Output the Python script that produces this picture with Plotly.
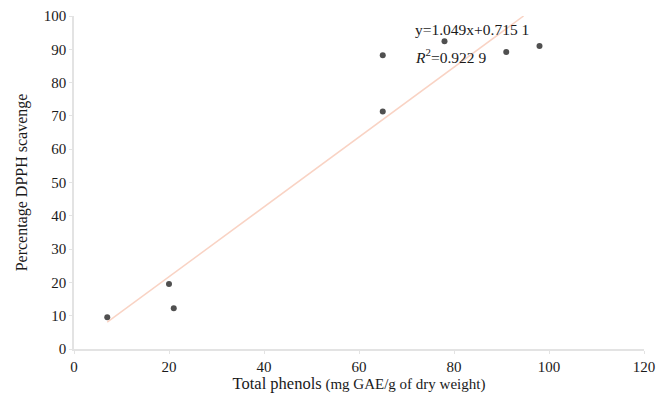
import plotly.graph_objects as go

x_phenols = [7, 20, 21, 65, 65, 78, 91, 98]
y_dpph = [9.5, 19.5, 12.2, 71.3, 88.2, 92.4, 89.2, 91.0]
slope = 1.049
intercept = 0.7151
x_fit = [7, (100 - intercept) / slope]
y_fit = [slope * v + intercept for v in x_fit]

x_ticks = [0, 20, 40, 60, 80, 100, 120]
y_ticks = [0, 10, 20, 30, 40, 50, 60, 70, 80, 90, 100]

fig = go.Figure()
fig.add_trace(go.Scatter(x=x_fit, y=y_fit, mode="lines",
                         line=dict(color="#f9d3c4", width=1.5), hoverinfo="skip"))
fig.add_trace(go.Scatter(x=x_phenols, y=y_dpph, mode="markers",
                         marker=dict(color="#505050", size=6, symbol="circle")))

fig.update_layout(
    width=662, height=393,
    margin=dict(l=74, r=18, t=16, b=44),
    plot_bgcolor="white", paper_bgcolor="white",
    showlegend=False,
    font=dict(family="Liberation Serif", color="#1a1a1a", size=15),
    xaxis=dict(range=[0, 120], tickvals=x_ticks, showgrid=False, zeroline=False,
               automargin=False,
               showline=True, linecolor="#e3e3e3", linewidth=1.5,
               ticks="outside", ticklen=3, tickcolor="#e3e3e3",
               tickfont=dict(size=15),
               title=dict(text="<span style='font-size:16.5px'>Total phenols</span> (mg GAE/g of dry weight)",
                          standoff=2, font=dict(size=15))),
    yaxis=dict(range=[0, 100], tickvals=y_ticks, showgrid=False, zeroline=False,
               automargin=False,
               showline=True, linecolor="#e3e3e3", linewidth=1.5,
               ticks="outside", ticklen=3, tickcolor="#e3e3e3",
               tickfont=dict(size=15),
               title=dict(text="Percentage DPPH scavenge", standoff=12,
                          font=dict(size=16))),
)
fig.add_annotation(x=71.3, y=96, xref="x", yref="y", xanchor="left",
                   text="y=1.049x+0.715 1", showarrow=False, font=dict(size=15.5))
fig.add_annotation(x=71.3, y=88, xref="x", yref="y", xanchor="left",
                   text="<i>R</i><sup>2</sup>=0.922 9", showarrow=False, font=dict(size=15.5))

fig.write_html("out.html", config={"displayModeBar": False},
               post_script="document.body.style.margin='0';document.body.style.overflow='hidden';")
